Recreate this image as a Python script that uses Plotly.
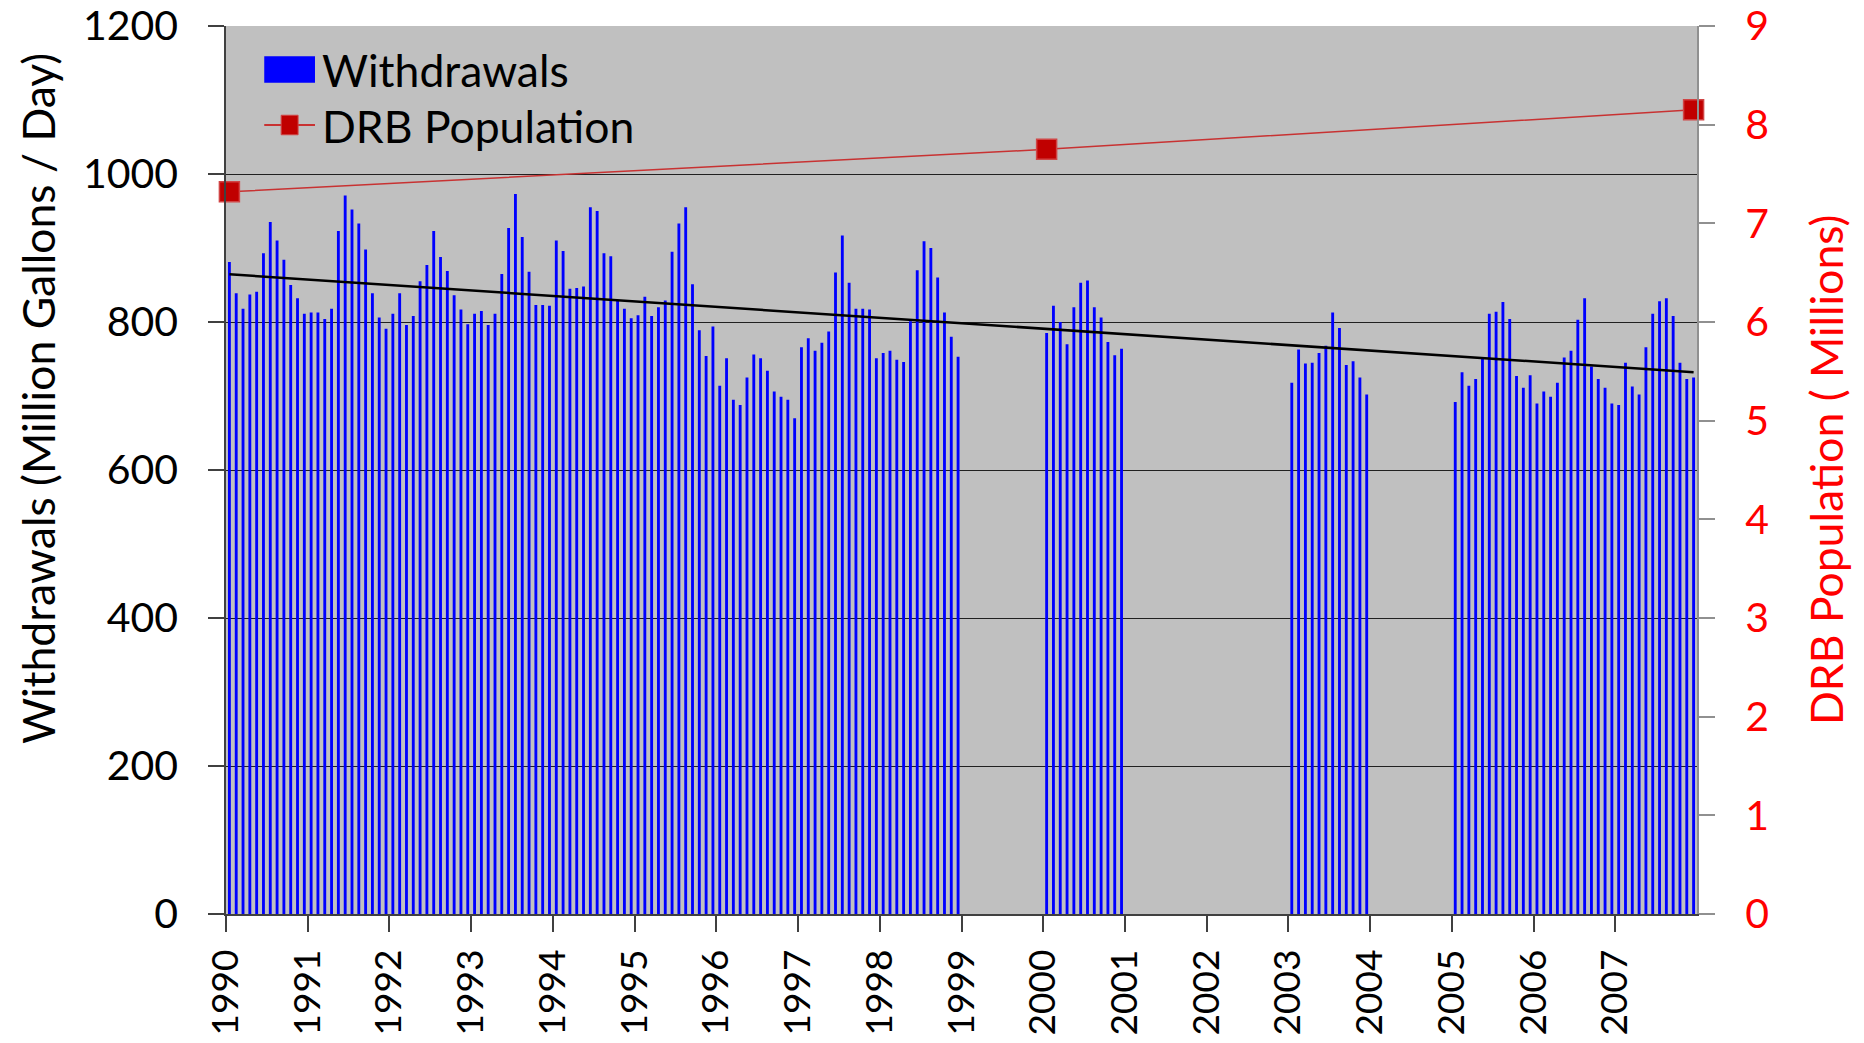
import numpy as np
import plotly.graph_objects as go

# Monthly withdrawals (million gallons / day)
withdrawals_1990s = [
    881, 839, 818, 837, 841, 893, 935, 910, 884, 850, 832, 811,  # 1990
    813, 813, 804, 818, 923, 971, 952, 933, 898, 839, 806, 791,  # 1991
    811, 839, 796, 808, 855, 877, 923, 888, 869, 836, 817, 797,  # 1992
    811, 815, 796, 811, 865, 927, 973, 915, 868, 823, 823, 822,  # 1993
    910, 896, 845, 846, 848, 955, 950, 893, 889, 829, 818, 805,  # 1994
    809, 834, 808, 820, 829, 895, 933, 955, 851, 789, 754, 794,  # 1995
    714, 751, 695, 688, 725, 756, 751, 734, 706, 699, 695, 670,  # 1996
    766, 778, 761, 772, 787, 867, 917, 853, 818, 818, 817, 751,  # 1997
    758, 761, 749, 746, 801, 870, 909, 900, 860, 813, 780, 753,  # 1998
]
withdrawals_2000 = [785, 822, 800, 770, 820, 853, 856, 820, 806, 773, 755, 764]
withdrawals_2003 = [718, 763, 744, 745, 758, 768, 813, 792, 742, 747, 725, 702]
withdrawals_2005_2007 = [
    692, 732, 714, 723, 750, 811, 814, 827, 804, 727, 711, 728,  # 2005
    690, 706, 699, 718, 752, 761, 803, 832, 740, 723, 711, 690,  # 2006
    688, 745, 713, 702, 766, 811, 828, 832, 808, 745, 723, 725,  # 2007
]

# DRB population (millions)
pop_years = [1990, 2000, 2007]
pop_months = [1, 1, 12]
pop_values = [7.32, 7.75, 8.15]

tick_years = list(range(1990, 2008))

FONT = "Lato"
BAR_BLUE = "#0000FF"
POP_RED = "#C00000"
POP_LINE = "#C83232"


def month_positions(start_year, n_months):
    """Centre of each month slot on a fractional-year axis."""
    return [start_year + (i + 0.5) / 12 for i in range(n_months)]


x_bars = (
    month_positions(1990, len(withdrawals_1990s))
    + month_positions(2000, len(withdrawals_2000))
    + month_positions(2003, len(withdrawals_2003))
    + month_positions(2005, len(withdrawals_2005_2007))
)
y_bars = withdrawals_1990s + withdrawals_2000 + withdrawals_2003 + withdrawals_2005_2007

# linear trend over all months with data
slope, intercept = np.polyfit(x_bars, y_bars, 1)
x_trend = [x_bars[0], x_bars[-1]]
y_trend = [slope * x + intercept for x in x_trend]

x_pop = [y + (m - 0.5) / 12 for y, m in zip(pop_years, pop_months)]

fig = go.Figure()
fig.add_trace(
    go.Bar(
        x=x_bars,
        y=y_bars,
        width=0.42 / 12,
        marker=dict(color=BAR_BLUE, line=dict(width=0)),
        name="Withdrawals",
        showlegend=False,
    )
)
fig.add_trace(
    go.Scatter(
        x=x_trend,
        y=y_trend,
        mode="lines",
        line=dict(color="black", width=2.5),
        showlegend=False,
    )
)
fig.add_trace(
    go.Scatter(
        x=x_pop,
        y=pop_values,
        yaxis="y2",
        mode="lines+markers",
        line=dict(color=POP_LINE, width=1.5),
        marker=dict(symbol="square", size=20, color=POP_RED, line=dict(color="#D04545", width=1.5)),
        name="DRB Population",
        showlegend=False,
        cliponaxis=False,
    )
)

fig.update_layout(
    width=1864,
    height=1043,
    margin=dict(l=226, r=167, t=26, b=129, autoexpand=False),
    paper_bgcolor="white",
    plot_bgcolor="#C0C0C0",
    font=dict(family=FONT, size=41, color="black"),
    showlegend=False,
    xaxis=dict(
        range=[1990, 2008],
        tickvals=tick_years,
        ticktext=[str(y) for y in tick_years],
        tickangle=-90,
        tickfont=dict(size=37),
        ticks="outside",
        ticklen=16,
        tickwidth=1.5,
        tickcolor="#404040",
        showline=True,
        linecolor="#404040",
        linewidth=1.5,
        showgrid=False,
        zeroline=False,
        automargin=False,
        ticklabelstandoff=3,
        ticklabeloverflow="allow",
    ),
    yaxis=dict(
        range=[0, 1200],
        dtick=200,
        ticks="outside",
        ticklen=16,
        tickwidth=1.5,
        tickcolor="#404040",
        showline=True,
        linecolor="#404040",
        linewidth=1.5,
        showgrid=True,
        gridcolor="#202020",
        gridwidth=1.3,
        zeroline=False,
        automargin=False,
        ticklabelstandoff=22,
        ticklabeloverflow="allow",
    ),
    yaxis2=dict(
        range=[0, 9],
        dtick=1,
        overlaying="y",
        side="right",
        ticks="outside",
        ticklen=16,
        tickwidth=1.5,
        tickcolor="#909090",
        showline=True,
        linecolor="#909090",
        linewidth=2,
        showgrid=False,
        zeroline=False,
        automargin=False,
        tickfont=dict(color="#FF0000"),
        ticklabelstandoff=22,
        ticklabeloverflow="allow",
    ),
)

# axis titles
fig.add_annotation(
    x=-0.1285, y=0.581, xref="paper", yref="paper", xanchor="center", yanchor="middle",
    text="Withdrawals (Million Gallons / Day)",
    textangle=-90, showarrow=False, font=dict(size=44.5, color="black"),
)
fig.add_annotation(
    x=1.087, y=0.5, xref="paper", yref="paper", xanchor="center", yanchor="middle",
    text="DRB Population ( Millions)",
    textangle=-90, showarrow=False, font=dict(size=44.5, color="#FF0000"),
)

# hand-drawn legend in the upper-left corner
fig.add_shape(
    type="rect", xref="paper", yref="paper",
    x0=0.026, x1=0.0605, y0=0.936, y1=0.966,
    fillcolor=BAR_BLUE, line=dict(width=0),
)
fig.add_annotation(
    x=0.064, y=0.951, xref="paper", yref="paper", xanchor="left", yanchor="middle",
    text="Withdrawals", showarrow=False, font=dict(size=44.5, color="black"),
)
fig.add_shape(
    type="line", xref="paper", yref="paper",
    x0=0.026, x1=0.0605, y0=0.8885, y1=0.8885,
    line=dict(color=POP_LINE, width=2),
)
fig.add_shape(
    type="rect", xref="paper", yref="paper",
    x0=0.0375, x1=0.049, y0=0.8775, y1=0.8995,
    fillcolor=POP_RED, line=dict(color="#D04545", width=1),
)
fig.add_annotation(
    x=0.064, y=0.8885, xref="paper", yref="paper", xanchor="left", yanchor="middle",
    text="DRB Population", showarrow=False, font=dict(size=44.5, color="black"),
)

# drop the default 8px page margin so the figure fills the window exactly
fig.write_html(
    "out.html",
    config={"displayModeBar": False},
    post_script="document.body.style.margin='0px';",
)
